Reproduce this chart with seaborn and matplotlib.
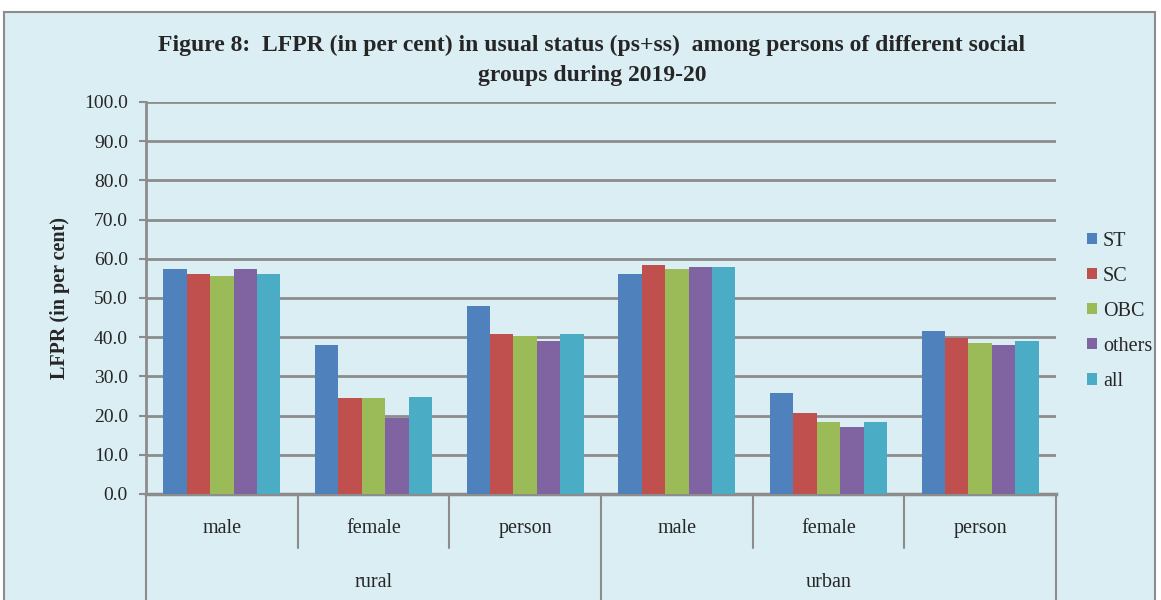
import matplotlib
matplotlib.use("Agg")
import matplotlib.pyplot as plt
import seaborn as sns
import pandas as pd
from matplotlib.patches import Rectangle
from matplotlib.lines import Line2D

sns.set_theme(style="white")
plt.rcParams['font.family'] = ['Liberation Serif', 'DejaVu Serif']

areas = ["rural", "urban"]
sexes = ["male", "female", "person"]
groups = ["ST", "SC", "OBC", "others", "all"]
colors = ["#4F81BD", "#C0504D", "#9BBB59", "#8064A2", "#4BACC6"]

rural_ST     = [57.4, 38.0, 48.0]
rural_SC     = [56.1, 24.5, 40.8]
rural_OBC    = [55.6, 24.5, 40.3]
rural_others = [57.4, 19.4, 39.0]
rural_all    = [56.1, 24.7, 40.8]
urban_ST     = [56.1, 25.8, 41.6]
urban_SC     = [58.4, 20.7, 39.8]
urban_OBC    = [57.4, 18.4, 38.5]
urban_others = [57.9, 17.1, 38.0]
urban_all    = [57.9, 18.4, 39.1]

yticks = [0, 10, 20, 30, 40, 50, 60, 70, 80, 90, 100]

series = {
    ("rural", "ST"): rural_ST, ("rural", "SC"): rural_SC, ("rural", "OBC"): rural_OBC,
    ("rural", "others"): rural_others, ("rural", "all"): rural_all,
    ("urban", "ST"): urban_ST, ("urban", "SC"): urban_SC, ("urban", "OBC"): urban_OBC,
    ("urban", "others"): urban_others, ("urban", "all"): urban_all,
}
rows = []
for a in areas:
    for i, s in enumerate(sexes):
        for g in groups:
            rows.append({"cat": f"{a} {s}", "group": g, "value": series[(a, g)][i]})
df = pd.DataFrame(rows)
order = [f"{a} {s}" for a in areas for s in sexes]

W, H = 1161, 600
fig = plt.figure(figsize=(W / 100, H / 100), dpi=100)
fig.patch.set_facecolor("white")
bg = Rectangle((4 / W, -0.02), (1155 - 4) / W, 1 - 12 / H + 0.02, transform=fig.transFigure,
               facecolor="#DBEEF4", edgecolor="#8C8C8C", linewidth=1.5, zorder=-10)
fig.patches.append(bg)

ax = fig.add_axes([146 / W, 1 - 494 / H, (1056 - 146) / W, (494 - 102) / H])
ax.set_facecolor("none")
sns.barplot(data=df, x="cat", y="value", hue="group", order=order, hue_order=groups,
            palette=colors, width=0.77, linewidth=0, saturation=1, ax=ax, zorder=3)

ax.set_xlim(-0.5, 5.5)
ax.set_ylim(0, 100)
ax.set_yticks(yticks)
ax.set_yticklabels([f"{v:.1f}" for v in yticks], fontsize=14)
ax.yaxis.grid(True, color="#8C8C8C", linewidth=2, zorder=0)
ax.set_axisbelow(True)
ax.tick_params(axis="y", left=True, length=5, width=1.5, color="#8C8C8C", pad=8)
ax.set_xticks([])
ax.set_xlabel("")
ax.set_ylabel("LFPR (in per cent)", fontsize=14.5, fontweight="bold", labelpad=10)
for sp in ["top", "right"]:
    ax.spines[sp].set_visible(False)
ax.spines["left"].set_color("#8C8C8C")
ax.spines["left"].set_linewidth(2)
ax.spines["bottom"].set_color("#8C8C8C")
ax.spines["bottom"].set_linewidth(2.5)

trans = ax.get_xaxis_transform()
for x in [0.5, 1.5, 3.5, 4.5]:
    ax.add_line(Line2D([x, x], [0, -0.138], transform=trans, color="#8C8C8C", lw=1.5, clip_on=False))
for x in [-0.5, 2.5, 5.5]:
    ax.add_line(Line2D([x, x], [0, -0.35], transform=trans, color="#8C8C8C", lw=1.5, clip_on=False))
for i, c in enumerate(order):
    ax.text(i, -0.087, c.split(" ")[1], transform=trans, ha="center", va="center", fontsize=14.5)
for j, a in enumerate(areas):
    ax.text(1 + 3 * j, -0.227, a, transform=trans, ha="center", va="center", fontsize=14.5)

leg = ax.legend(loc="upper left", bbox_to_anchor=(1.025, 0.69), frameon=False, fontsize=14.5,
                handlelength=0.5, handleheight=0.5, handletextpad=0.3, labelspacing=0.8,
                borderaxespad=0)

fig.text(592 / W, 1 - 45 / H,
         "Figure 8:  LFPR (in per cent) in usual status (ps+ss)  among persons of different social",
         ha="center", va="center", fontsize=17, fontweight="bold")
fig.text(592 / W, 1 - 75 / H, "groups during 2019-20",
         ha="center", va="center", fontsize=17, fontweight="bold")

fig.savefig("out.png", dpi=100, facecolor=fig.get_facecolor())
